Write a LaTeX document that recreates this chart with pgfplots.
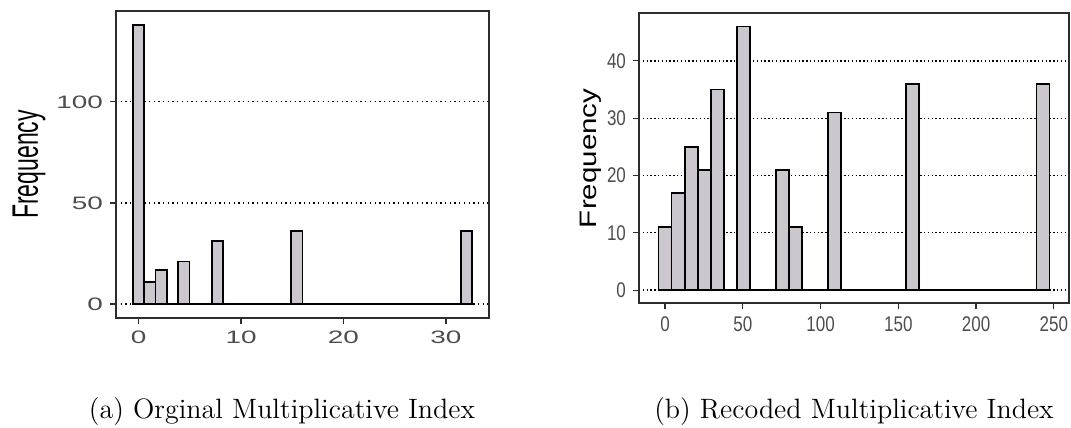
\documentclass[border=0pt]{standalone}
\usepackage{pgfplots}
\pgfplotsset{compat=1.18}
\usepackage{pgfplotstable}
\usepackage{graphicx}
\usepackage{fontspec}
\newfontfamily\arial{Liberation Sans}
\definecolor{barfill}{RGB}{204,198,206}
\definecolor{tickgrey}{RGB}{77,77,77}
\definecolor{framegrey}{RGB}{45,45,45}

% Original index: 30 bins, width 32/29
\pgfplotstableread{
x y
0 138
1.1034 11
2.2069 17
3.3103 0
4.4138 21
5.5172 0
6.6207 0
7.7241 31
8.8276 0
9.9310 0
11.0345 0
12.1379 0
13.2414 0
14.3448 0
15.4483 36
16.5517 0
17.6552 0
18.7586 0
19.8621 0
20.9655 0
22.0690 0
23.1724 0
24.2759 0
25.3793 0
26.4828 0
27.5862 0
28.6897 0
29.7931 0
30.8966 0
32 36
}\leftdata

% Recoded index: 30 bins, width 243/29
\pgfplotstableread{
x y
0 11
8.3793 17
16.7586 25
25.1379 21
33.5172 35
41.8966 0
50.2759 46
58.6552 0
67.0345 0
75.4138 21
83.7931 11
92.1724 0
100.5517 0
108.9310 31
117.3103 0
125.6897 0
134.0690 0
142.4483 0
150.8276 0
159.2069 36
167.5862 0
175.9655 0
184.3448 0
192.7241 0
201.1034 0
209.4828 0
217.8621 0
226.2414 0
234.6207 0
243 36
}\rightdata

\pgfplotsset{
  histstyle/.style={
    scale only axis,
    axis line style={framegrey, line width=0.9pt},
    tick align=outside,
    xtick pos=bottom, ytick pos=left,
    major tick length=3pt,
    tick style={framegrey, line width=0.6pt},
    ymajorgrids,
    /pgf/number format/assume math mode=true,
    xticklabel style={text=tickgrey},
    yticklabel style={text=tickgrey},
  }
}

\begin{document}
\begin{tikzpicture}
\path[use as bounding box] (0,0) rectangle (535.5pt,-214pt);

\begin{axis}[histstyle,
  at={(58pt,-159pt)}, anchor=south west,
  width=186.5pt, height=153.5pt,
  xmin=-2.2, xmax=34.2, ymin=-6.9, ymax=144.9,
  xtick={0,10,20,30}, ytick={0,50,100},
  grid style={black, line width=0.65pt, dash pattern=on 0.65pt off 1.7pt},
  xticklabel={\scalebox{1.55}[1]{\pgfmathprintnumber{\tick}}},
  yticklabel={\scalebox{1.55}[1]{\pgfmathprintnumber{\tick}}},
  ticklabel style={font=\arial\fontsize{9}{10}\selectfont},
  ylabel={\scalebox{1}[1.6]{Frequency}},
  ylabel style={font=\arial\fontsize{11.5}{13}\selectfont, at={(axis description cs:-0.233,0.5)}, anchor=center},
]
\addplot[ybar, bar width=1.1034, fill=barfill, draw=black, line width=0.9pt] table {\leftdata};
\end{axis}

\begin{axis}[histstyle,
  at={(319.5pt,-151.65pt)}, anchor=south west,
  width=215pt, height=145pt,
  xmin=-16.76, xmax=259.76, ymin=-2.3, ymax=48.3,
  xtick={0,50,100,150,200,250}, ytick={0,10,20,30,40},
  grid style={black, line width=0.65pt, dash pattern=on 0.65pt off 1.25pt},
  xticklabel={\scalebox{1}[1.25]{\pgfmathprintnumber{\tick}}},
  yticklabel={\scalebox{1}[1.25]{\pgfmathprintnumber{\tick}}},
  ticklabel style={font=\arial\fontsize{8.5}{10}\selectfont},
  ylabel={\scalebox{1.24}[1]{Frequency}},
  ylabel style={font=\arial\fontsize{11.9}{13}\selectfont, at={(axis description cs:-0.112,0.5)}, anchor=center},
]
\addplot[ybar, bar width=8.3793, fill=barfill, draw=black, line width=0.9pt] table {\rightdata};
\end{axis}

\node[anchor=base, font=\fontsize{14}{17}\selectfont] at (141pt,-209pt) {(a) Orginal Multiplicative Index};
\node[anchor=base, font=\fontsize{14}{17}\selectfont] at (427pt,-209pt) {(b) Recoded Multiplicative Index};
\end{tikzpicture}
\end{document}
